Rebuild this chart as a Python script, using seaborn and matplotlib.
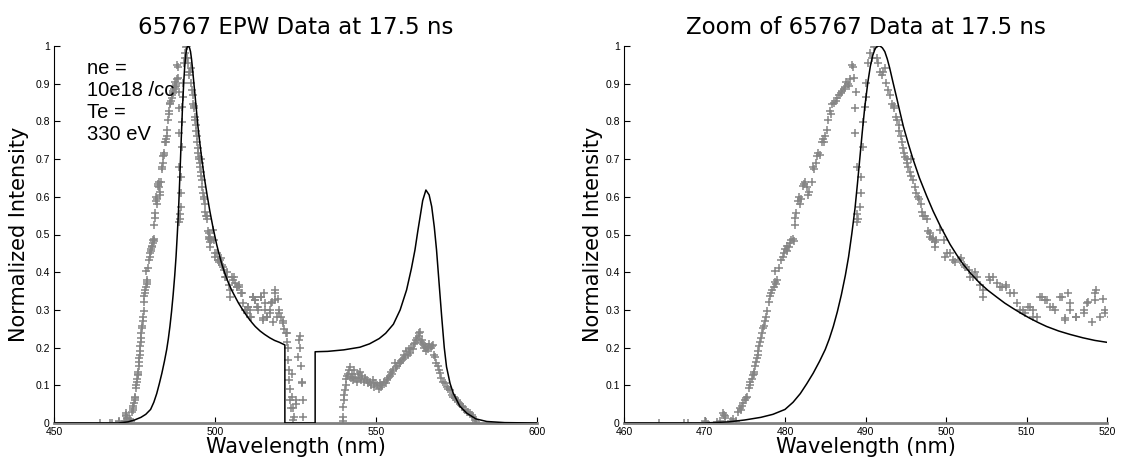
import matplotlib
matplotlib.use("Agg")
import matplotlib.pyplot as plt
import seaborn as sns
import pandas as pd

# ---------------- data ----------------
# model (black line)
model_x = [450, 470, 473, 475, 477, 478.5, 480, 481, 481.9, 482.7, 483.5, 484.3, 485, 485.5, 486, 486.5,
           487, 487.5, 487.9, 488.3, 488.7, 489.0, 489.3, 489.6, 489.9, 490.3, 490.6, 490.9, 491.2,
           491.5, 491.8, 492.1, 492.4, 492.7, 493.0, 493.4, 493.9, 494.3, 494.7, 495.3, 495.9, 496.7,
           497.6, 498.4, 499.3, 500.0, 500.5, 501.3, 502.1, 503.1, 504.2, 505.2, 506.3, 507.3, 508.4,
           509.4, 510.4, 511.5, 512.5, 514, 515.4, 517, 518.5, 520, 521.7, 521.7, 531.1, 531.1, 535,
           540, 545, 548, 551, 553, 555.4, 557.5, 559.5, 561, 562.1, 563, 563.7, 564.5, 565.5, 566.5,
           567.3, 568.1, 568.8, 569.6, 570.4, 571.2, 571.9, 573, 574, 576, 578.2, 581, 584.4, 590, 600]
model_y = [0, 0.0, 0.003, 0.008, 0.015, 0.023, 0.036, 0.055, 0.078, 0.104, 0.132, 0.164, 0.195, 0.223, 0.256,
           0.295, 0.340, 0.392, 0.441, 0.502, 0.570, 0.635, 0.703, 0.772, 0.836, 0.905, 0.946, 0.975, 0.993,
           1.0, 1.0, 0.995, 0.985, 0.966, 0.942, 0.905, 0.86, 0.823, 0.787, 0.742, 0.700, 0.650,
           0.602, 0.562, 0.522, 0.494, 0.474, 0.447, 0.422, 0.396, 0.371, 0.352, 0.334, 0.318, 0.303,
           0.29, 0.278, 0.266, 0.256, 0.244, 0.235, 0.226, 0.219, 0.214, 0.207, 0.0, 0.0, 0.189, 0.190,
           0.194, 0.201, 0.210, 0.224, 0.238, 0.262, 0.300, 0.353, 0.41, 0.459, 0.51, 0.547, 0.59, 0.618, 0.605,
           0.574, 0.52, 0.459, 0.37, 0.282, 0.20, 0.149, 0.105, 0.079, 0.045, 0.026, 0.011, 0.004, 0.001, 0]

# measured data (grey + markers), in segments
zero_pts = [(464.3, 0.0), (467.4, 0.0), (468.0, 0.0), (470.1, 0.006), (470.2, 0.002), (471.6, 0.003),
            (471.9, 0.004)]
rise_pts = [(472.3, .027), (472.4, .022), (472.5, .018), (472.6, .012), (473.3, .004), (473.6, .010),
            (473.9, .006), (474.2, .028), (474.4, .040), (474.5, .035), (474.6, .045), (474.8, .052),
            (475.0, .060), (475.1, .066), (475.3, .068), (475.5, .092), (475.6, .100), (475.7, .108),
            (475.9, .118), (476.0, .128), (476.1, .135), (476.2, .130), (476.3, .150), (476.4, .162),
            (476.5, .172), (476.6, .180), (476.7, .192), (476.8, .205), (476.9, .215), (477.0, .225),
            (477.1, .240), (477.3, .252), (477.4, .258), (477.5, .270), (477.6, .280), (477.8, .298),
            (478.0, .320), (478.1, .338), (478.2, .345), (478.4, .352), (478.6, .360), (478.8, .375),
            (478.9, .370), (478.7, .402), (479.0, .380), (479.3, .410), (479.5, .432), (479.7, .440),
            (479.9, .450), (480.0, .462), (480.2, .455), (480.3, .470), (480.5, .468), (480.6, .478),
            (480.8, .485), (481.0, .488), (481.1, .482)]
upper_pts = [(481.2, .525), (481.3, .545), (481.4, .556), (481.6, .590), (481.8, .600), (481.9, .582),
             (482.0, .595), (482.2, .628), (482.4, .634), (482.5, .640), (482.7, .625), (482.9, .605),
             (483.0, .612), (483.3, .640), (483.5, .680), (483.6, .675), (483.8, .690), (484.0, .708),
             (484.1, .715), (484.3, .712), (484.6, .745), (484.7, .752), (484.9, .745), (485.0, .760),
             (485.2, .778), (485.4, .805), (485.6, .828), (485.7, .820), (485.9, .845), (486.1, .848),
             (486.3, .855), (486.5, .862), (486.7, .870), (486.9, .876), (487.1, .880), (487.3, .885),
             (487.5, .892), (487.6, .905), (487.8, .898), (487.9, .895), (488.1, .912), (488.3, .950),
             (488.4, .945), (488.6, .914), (488.8, .879)]
branch_pts = [(488.7, .835), (488.7, .768), (488.9, .534), (488.9, .680), (489.0, .555), (489.1, .540),
              (489.3, .574), (489.5, .609), (489.5, .653), (489.7, .733), (489.7, .799), (489.9, .839),
              (490.0, .866), (490.1, .901)]
peak_pts = [(490.3, .955), (490.6, .981), (490.8, .967), (491.0, .998), (491.2, 1.0), (491.4, .967),
            (491.6, .955), (491.8, .932), (492.0, .923), (492.2, .932), (492.4, .941), (492.6, .901),
            (492.8, .883), (493.1, .870), (493.3, .845), (493.5, .835), (493.6, .840), (493.8, .812),
            (493.9, .805), (494.1, .790), (494.2, .775), (494.4, .760), (494.5, .745), (494.6, .730),
            (494.8, .715), (494.9, .705), (495.1, .700), (495.2, .690), (495.3, .678), (495.5, .665),
            (495.6, .700), (495.7, .655), (495.9, .645), (496.1, .625), (496.3, .610), (496.5, .600),
            (496.7, .595), (496.9, .580), (497.0, .560), (497.2, .550), (497.4, .548), (497.6, .540),
            (497.8, .510), (498.0, .494), (498.2, .488), (498.4, .492), (498.6, .480)]
tail_pts = [(498.0, .503), (498.8, .485), (498.6, .468), (499.3, .512), (499.7, .485), (499.9, .441),
            (500.1, .450), (500.5, .450), (500.9, .432), (501.1, .428), (501.7, .432), (501.9, .437),
            (502.2, .419), (502.4, .415), (502.8, .406), (503.0, .388), (503.4, .388), (503.6, .401),
            (503.8, .388), (504.2, .366), (504.6, .335), (504.6, .353), (505.3, .388), (505.5, .379),
            (505.9, .388), (506.3, .371), (506.7, .362), (506.9, .362), (507.5, .366), (507.5, .362),
            (508.0, .344), (508.4, .344), (508.8, .318), (509.2, .300), (509.6, .300), (509.8, .291),
            (510.2, .309), (510.4, .309), (510.8, .300), (510.8, .282), (511.3, .282), (511.7, .335),
            (511.9, .335), (512.3, .326), (512.5, .326), (512.9, .309), (513.3, .309), (513.5, .300),
            (514.2, .335), (514.4, .335), (514.8, .273), (514.8, .278), (515.2, .344), (515.4, .300),
            (515.4, .318), (516.2, .282), (516.2, .282), (517.1, .291), (517.1, .300), (517.5, .318),
            (517.7, .322), (518.1, .269), (518.5, .344), (518.5, .326), (518.6, .353), (519.1, .282),
            (519.5, .330), (519.8, .291), (519.8, .300), (520.5, .280), (521.0, .270), (521.2, .264),
            (521.5, .250), (522.0, .240), (522.3, .238), (522.3, .215)]
dip_pts = [(522.6, .20), (522.8, .167), (523.0, .14), (523.1, .114), (523.2, .09), (523.3, .061),
           (523.5, .04), (523.8, .13), (524.0, .07), (524.1, .04), (524.3, .008), (524.6, .015),
           (525.0, .05), (525.2, .06), (525.9, .176), (526.1, .22), (526.3, .23), (526.4, .20),
           (526.6, .15), (526.9, .105), (527.0, .11), (527.2, .06), (527.4, .017)]
red_pts = [(539.6, .005), (539.7, .017), (539.8, .043), (540.0, .06), (540.2, .075), (540.4, .088),
           (540.6, .10), (540.8, .118), (541.0, .125), (541.3, .13), (541.6, .14), (541.9, .149),
           (542.2, .12), (542.5, .13), (542.8, .115), (543.0, .123), (543.3, .14), (543.6, .12),
           (544.0, .11), (544.4, .13), (544.8, .12), (545.0, .136), (545.4, .115), (545.8, .125),
           (546.3, .11), (546.7, .12), (547.1, .114), (547.5, .105), (548.0, .11), (548.5, .10),
           (549.0, .114), (549.4, .095), (549.8, .105), (550.3, .10), (550.8, .09), (551.2, .105),
           (551.6, .095), (552.0, .10), (552.5, .11), (553.0, .105), (553.3, .114), (553.8, .12),
           (554.2, .125), (554.6, .135), (555.0, .13), (555.4, .141), (555.8, .16), (556.2, .145),
           (556.6, .15), (557.0, .16), (557.5, .158), (557.9, .165), (558.3, .17), (558.7, .18),
           (559.0, .176), (559.4, .19), (559.8, .18), (560.2, .195), (560.6, .185), (561.0, .20),
           (561.4, .195), (561.8, .21), (562.1, .211), (562.4, .22), (562.8, .225), (563.2, .23),
           (563.5, .24), (563.7, .242), (563.9, .215), (564.2, .22), (564.5, .21), (564.9, .20),
           (565.2, .205), (565.5, .19), (565.8, .202), (566.2, .195), (566.6, .21), (567.0, .20),
           (567.4, .205), (567.8, .207), (568.1, .18), (568.3, .176), (568.7, .16), (569.1, .15),
           (569.5, .14), (569.9, .132), (570.3, .12), (570.8, .11), (571.4, .105), (571.9, .095),
           (572.5, .09), (573.0, .088), (573.5, .075), (574.0, .07), (574.6, .065), (575.1, .061),
           (575.6, .055), (576.1, .05), (576.6, .045), (577.1, .043), (577.6, .035), (578.2, .03),
           (578.7, .028), (579.2, .026), (579.7, .02), (580.2, .015), (580.7, .008), (581.0, .003)]

titles = ["65767 EPW Data at 17.5 ns", "Zoom of 65767 Data at 17.5 ns"]
xlims = [(450, 600), (460, 520)]
xticks = [[450, 500, 550, 600], [460, 470, 480, 490, 500, 510, 520]]
yticks = [0, 0.1, 0.2, 0.3, 0.4, 0.5, 0.6, 0.7, 0.8, 0.9, 1]
ytick_labels = ["0", "0.1", "0.2", "0.3", "0.4", "0.5", "0.6", "0.7", "0.8", "0.9", "1"]
annot = "ne =\n10e18 /cc\nTe =\n330 eV"

# ---------------- build frames ----------------
all_pts = zero_pts + rise_pts + upper_pts + branch_pts + peak_pts + tail_pts + dip_pts + red_pts
data_df = pd.DataFrame(all_pts, columns=["wl", "I"])
model_df = pd.DataFrame({"wl": model_x, "I": model_y})

sns.set_style("ticks")
plt.rcParams["font.family"] = ["DejaVu Sans"]
plt.rcParams["text.color"] = "black"
plt.rcParams["axes.labelcolor"] = "black"
plt.rcParams["xtick.color"] = "black"
plt.rcParams["ytick.color"] = "black"

fig = plt.figure(figsize=(11.21, 4.66), dpi=100)
axes = [fig.add_axes([54 / 1121, 1 - 423 / 466, 483 / 1121, 377 / 466]),
        fig.add_axes([624 / 1121, 1 - 423 / 466, 483 / 1121, 377 / 466])]

label_font = "DejaVu Sans"
ylabel_x = [-0.052, -0.043]

for i, ax in enumerate(axes):
    sns.scatterplot(data=data_df, x="wl", y="I", ax=ax, marker="+", color="#858585",
                    s=32, linewidth=1.1, zorder=2, legend=False)
    sns.lineplot(data=model_df, x="wl", y="I", ax=ax, color="black", linewidth=1.1,
                 estimator=None, sort=False, zorder=3)
    ax.set_xlim(*xlims[i])
    ax.set_ylim(0, 1)
    ax.set_xticks(xticks[i])
    ax.set_xticklabels([str(t) for t in xticks[i]], fontfamily="Liberation Sans", fontsize=7.5)
    ax.set_yticks(yticks)
    ax.set_yticklabels(ytick_labels, fontfamily="Liberation Sans", fontsize=7.5)
    ax.tick_params(direction="in", length=4, width=0.8, pad=3, colors="black")
    for s in ["top", "right"]:
        ax.spines[s].set_visible(False)
    ax.spines["left"].set_color("black")
    ax.spines["left"].set_linewidth(0.8)
    ax.spines["bottom"].set_color("#808080")
    ax.spines["bottom"].set_linewidth(2.0)
    ax.set_title(titles[i], fontsize=16.5, fontfamily=label_font, pad=9, color="black")
    ax.set_xlabel("Wavelength (nm)", fontsize=15, fontfamily=label_font)
    ax.set_ylabel("Normalized Intensity", fontsize=15, fontfamily=label_font)
    ax.xaxis.set_label_coords(0.5, -0.037)
    ax.yaxis.set_label_coords(ylabel_x[i], 0.5)
    ax.set_facecolor("white")

axes[0].text(460.2, 0.965, annot, fontsize=14.5, fontfamily="Liberation Sans", va="top", ha="left",
             color="black")

fig.savefig("out.png", dpi=100, facecolor="white")
